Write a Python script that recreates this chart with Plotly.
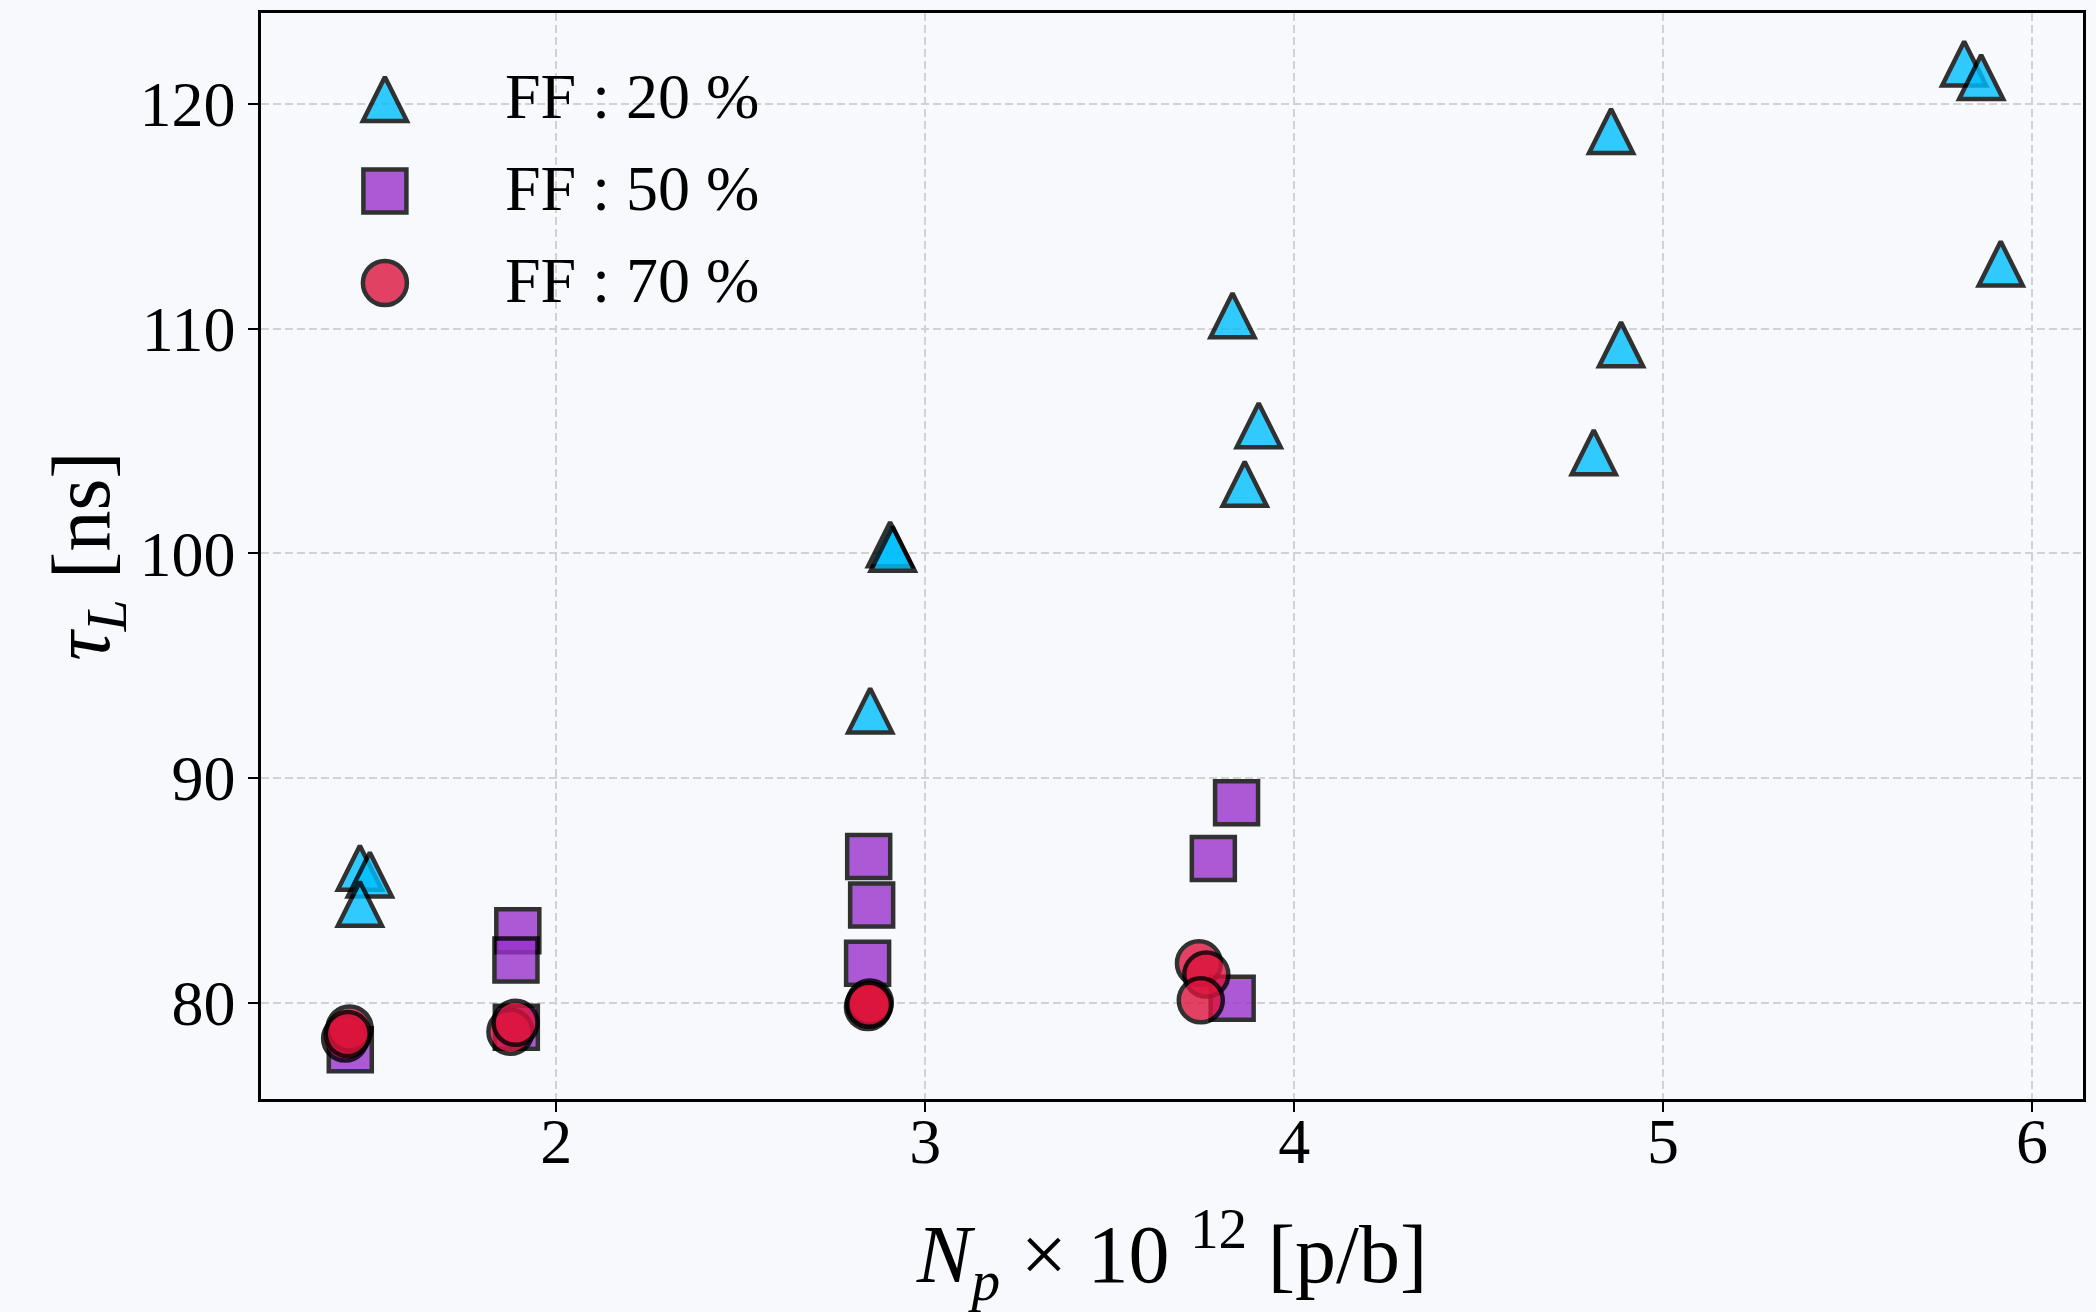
import plotly.graph_objects as go

# Bunch intensity Np (x 10^12 protons per bunch) and measured bunch length tau_L (ns)
ff20_np = [1.468, 1.495, 1.468, 2.851, 2.905, 2.912, 3.833, 3.904, 3.866,
           4.859, 4.886, 4.812, 5.816, 5.862, 5.915]
ff20_tau = [86.0, 85.7, 84.4, 93.0, 100.4, 100.2, 110.6, 105.7, 103.1,
            118.8, 109.3, 104.5, 121.8, 121.2, 112.9]

ff50_np = [1.442, 1.896, 1.891, 1.892, 2.847, 2.855, 2.844, 3.844, 3.781, 3.832]
ff50_tau = [77.9, 83.2, 81.9, 78.9, 86.5, 84.35, 81.75, 88.9, 86.42, 80.2]

ff70_np = [1.428, 1.440, 1.435, 1.876, 1.890, 2.845, 2.850, 2.848, 3.742, 3.762, 3.747]
ff70_tau = [78.4, 78.85, 78.6, 78.7, 79.1, 79.8, 80.0, 79.9, 81.75, 81.25, 80.1]

series_names = ["FF : 20 %", "FF : 50 %", "FF : 70 %"]
x_ticks = [2, 3, 4, 5, 6]
y_ticks = [80, 90, 100, 110, 120]

FONT = "Liberation Serif"
BG = "#f7f9fc"
EDGE = dict(color="black", width=4.5)

# An isosceles triangle as tall as it is wide: arrow-down (apex on the point),
# pushed down by half its height and turned 180 degrees so it is centred on
# the point and points up.
TRI = 44
styles = [
    dict(symbol="arrow-down", size=TRI, color="#00bfff", standoff=TRI / 2, angle=180),
    dict(symbol="square", size=43, color="#9932cc", standoff=0, angle=0),
    dict(symbol="circle", size=44, color="#dc143c", standoff=0, angle=0),
]
data = [(ff20_np, ff20_tau), (ff50_np, ff50_tau), (ff70_np, ff70_tau)]


def marker_style(st):
    return dict(symbol=st["symbol"], size=st["size"], color=st["color"],
                standoff=st["standoff"], angle=st["angle"], opacity=0.8, line=EDGE)


fig = go.Figure()
for (xs, ys), st, name in zip(data, styles, series_names):
    fig.add_trace(go.Scatter(x=xs, y=ys, mode="markers", name=name,
                             showlegend=False, marker=marker_style(st)))

# Hand-built legend on an overlay axis: one row per series
legend_rows = [0, 1, 2]
key_x = 0.068
label_x = 0.1326
for row, st, name in zip(legend_rows, styles, series_names):
    fig.add_trace(go.Scatter(x=[key_x], y=[row], xaxis="x2", yaxis="y2",
                             mode="markers", showlegend=False, hoverinfo="skip",
                             marker=marker_style(st)))
    fig.add_annotation(x=label_x, y=row, xref="x2", yref="y2", text=name,
                       showarrow=False, xanchor="left", yanchor="middle", yshift=3,
                       font=dict(family=FONT, size=64, color="black"))

axis_common = dict(
    showline=True, linecolor="black", linewidth=2.5, mirror=True,
    ticks="outside", ticklen=10, tickwidth=2, tickcolor="black",
    showgrid=True, gridcolor="#d2d2d4", gridwidth=2, griddash="8px,4px",
    zeroline=False, tickfont=dict(family=FONT, size=64, color="black"),
)

fig.update_layout(
    width=2096, height=1312,
    margin=dict(l=261, r=13, t=13, b=213, autoexpand=False),
    paper_bgcolor=BG, plot_bgcolor=BG,
    xaxis=dict(range=[1.2, 6.138], tickvals=x_ticks, ticklabelstandoff=-26,
               title=dict(text="<i>N</i><sub><i>p</i></sub> × 10 <sup>12</sup> [p/b]",
                          font=dict(family=FONT, size=82, color="black"), standoff=50),
               **axis_common),
    yaxis=dict(range=[75.71, 124.05], tickvals=y_ticks,
               title=dict(text="<i>τ</i><sub><i>L</i></sub> [ns]",
                          font=dict(family=FONT, size=82, color="black"), standoff=3),
               **axis_common),
    xaxis2=dict(overlaying="x", anchor="y2", range=[0, 1], visible=False),
    yaxis2=dict(overlaying="y", anchor="x2", range=[10.87, -0.935], visible=False),
)

fig.write_html("out.html")
